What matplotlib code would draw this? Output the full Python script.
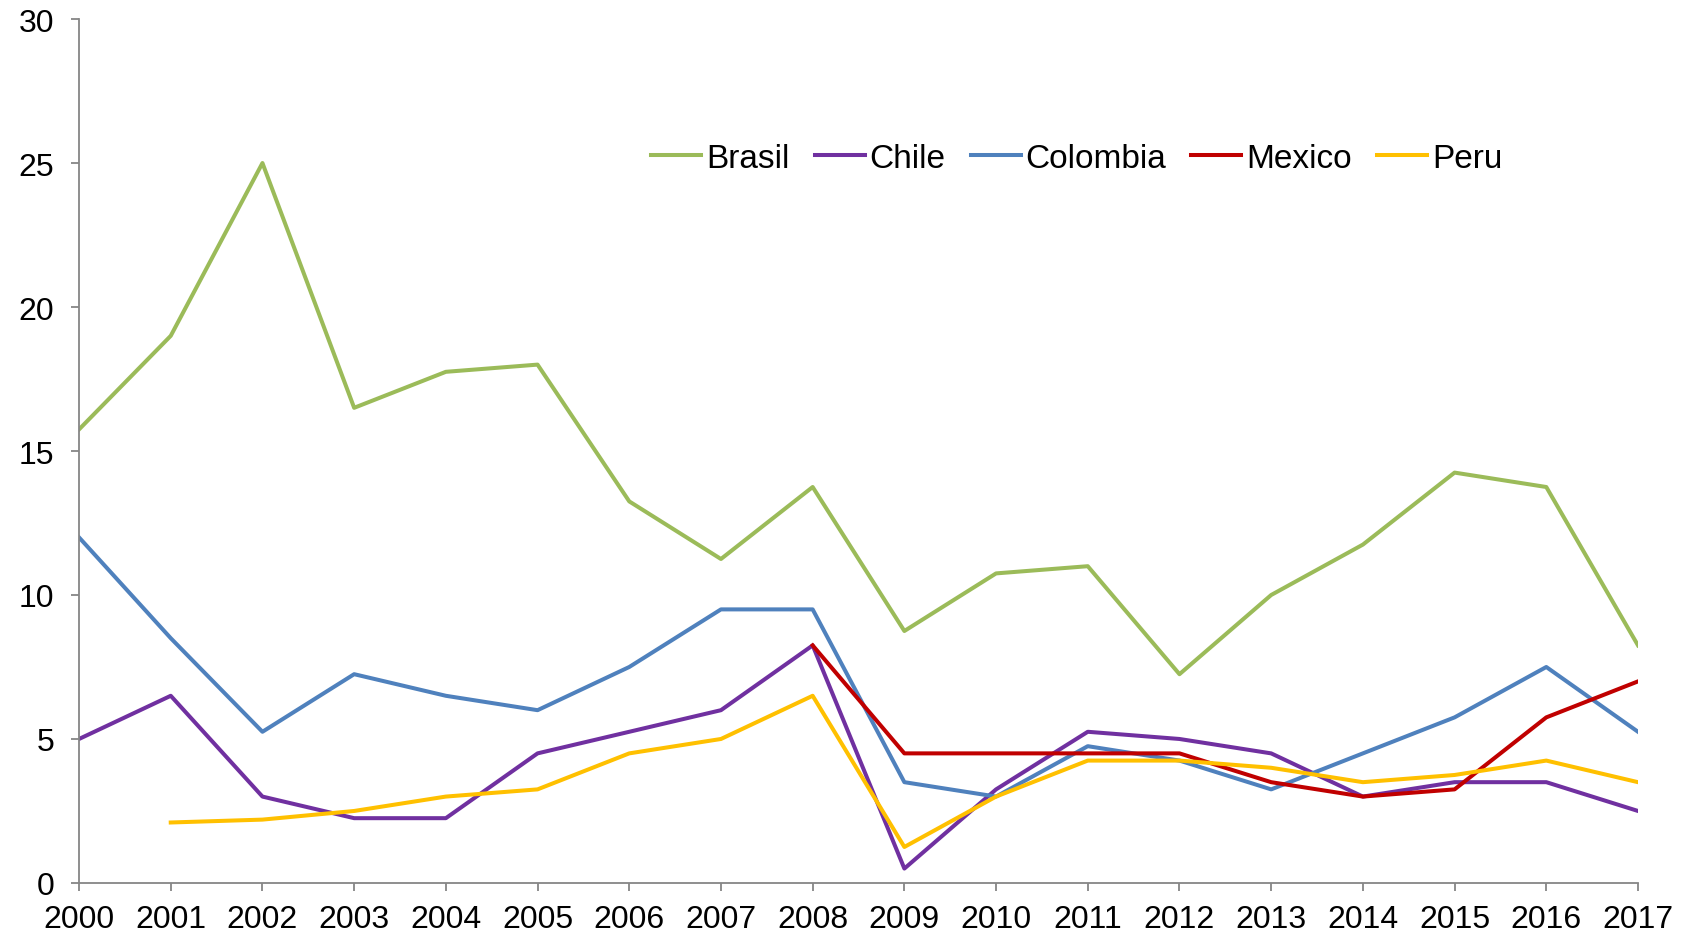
import matplotlib
matplotlib.use("Agg")
import matplotlib.pyplot as plt
import numpy as np

plt.rcParams['font.family'] = ['Liberation Sans', 'DejaVu Sans']

years = list(range(2000, 2018))
brasil = [15.75, 19, 25, 16.5, 17.75, 18, 13.25, 11.25, 13.75, 8.75, 10.75, 11, 7.25, 10, 11.75, 14.25, 13.75, 8.25]
chile = [5, 6.5, 3, 2.25, 2.25, 4.5, 5.25, 6, 8.25, 0.5, 3.25, 5.25, 5, 4.5, 3, 3.5, 3.5, 2.5]
colombia = [12, 8.5, 5.25, 7.25, 6.5, 6, 7.5, 9.5, 9.5, 3.5, 3, 4.75, 4.25, 3.25, 4.5, 5.75, 7.5, 5.25]
# Mexico starts in 2008, Peru in 2001
mexico_years = list(range(2008, 2018))
mexico = [8.25, 4.5, 4.5, 4.5, 4.5, 3.5, 3, 3.25, 5.75, 7]
peru_years = list(range(2001, 2018))
peru = [2.1, 2.2, 2.5, 3, 3.25, 4.5, 5, 6.5, 1.25, 3, 4.25, 4.25, 4, 3.5, 3.75, 4.25, 3.5]

fig = plt.figure(figsize=(16.89, 9.37), dpi=100)
ax = fig.add_axes([0.0468, 0.0566, 0.923, 0.922])

lw = 2.9
ax.plot(years, brasil, color='#9BBB59', lw=lw, label='Brasil')
ax.plot(years, chile, color='#7030A0', lw=lw, label='Chile')
ax.plot(years, colombia, color='#4F81BD', lw=lw, label='Colombia')
ax.plot(mexico_years, mexico, color='#C00000', lw=lw, label='Mexico')
ax.plot(peru_years, peru, color='#FFC000', lw=lw, label='Peru')

ax.set_xlim(2000, 2017)
ax.set_ylim(0, 30)
ax.set_xticks(years)
ax.set_yticks(np.arange(0, 31, 5))

for s in ['top', 'right']:
    ax.spines[s].set_visible(False)
for s in ['left', 'bottom']:
    ax.spines[s].set_color('#868686')
    ax.spines[s].set_linewidth(1.3)
ax.tick_params(axis='both', colors='#868686', labelcolor='black', labelsize=23, length=6, width=1.3)
ax.tick_params(axis='y', pad=12)
ax.tick_params(axis='x', pad=9)

ax.legend(loc='center', bbox_to_anchor=(0.64, 0.839), ncol=5, frameon=False,
          fontsize=24, handlelength=1.5, handletextpad=0.15, columnspacing=0.75)

fig.savefig('out.png', dpi=100)
